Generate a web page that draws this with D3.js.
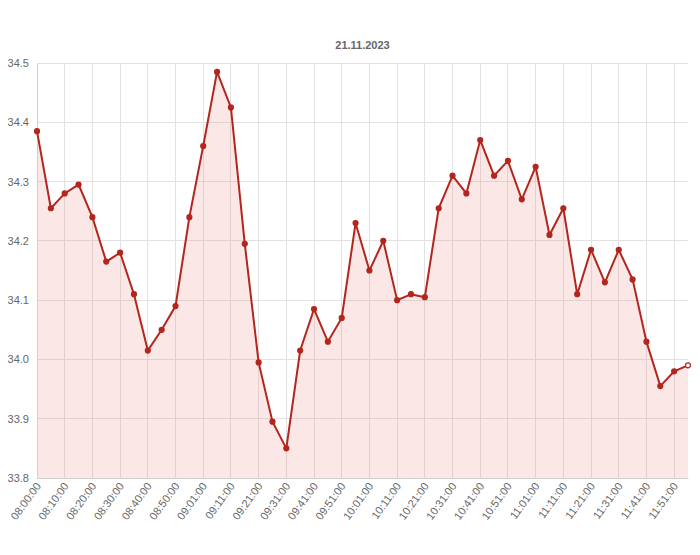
<!DOCTYPE html>
<html><head><meta charset="utf-8">
<script src="https://cdn.jsdelivr.net/npm/d3@7/dist/d3.min.js"></script>
<style>body{margin:0;background:#fff}svg{display:block}</style>
</head><body><div id="chart"></div>
<script>
const title = "21.11.2023";
const times = ["08:00:00","08:05:00","08:10:00","08:15:00","08:20:00","08:25:00","08:30:00","08:35:00","08:40:00","08:45:00",
"08:50:00","08:55:00","09:01:00","09:06:00","09:11:00","09:16:00","09:21:00","09:26:00","09:31:00","09:36:00",
"09:41:00","09:46:00","09:51:00","09:56:00","10:01:00","10:06:00","10:11:00","10:16:00","10:21:00","10:26:00",
"10:31:00","10:36:00","10:41:00","10:46:00","10:51:00","10:56:00","11:01:00","11:06:00","11:11:00","11:16:00",
"11:21:00","11:26:00","11:31:00","11:36:00","11:41:00","11:46:00","11:51:00","11:56:00"];
const values = [34.385,34.255,34.28,34.295,34.24,34.165,34.18,34.11,34.015,34.05,
34.09,34.24,34.36,34.485,34.425,34.195,33.995,33.895,33.85,34.015,
34.085,34.03,34.07,34.23,34.15,34.2,34.1,34.11,34.105,34.255,
34.31,34.28,34.37,34.31,34.335,34.27,34.325,34.21,34.255,34.11,
34.185,34.13,34.185,34.135,34.03,33.955,33.98,33.99];
const yTicks = [33.8,33.9,34.0,34.1,34.2,34.3,34.4,34.5];

const W = 700, H = 555;
const m = {left:37, right:12, top:63, bottom:77};
const svg = d3.select("#chart").append("svg").attr("width",W).attr("height",H);
const font = "'Liberation Sans', Arial, sans-serif";

const x = d3.scalePoint().domain(times).range([m.left, W - m.right]);
const y = d3.scaleLinear().domain([33.8,34.5]).range([H - m.bottom, m.top]);

// grid
const labelTimes = times.filter((t,i)=> i%2===0);
svg.append("g").selectAll("line.v").data(labelTimes).join("line")
  .attr("x1",d=>x(d)).attr("x2",d=>x(d)).attr("y1",m.top).attr("y2",H-m.bottom)
  .attr("stroke","#e2e2e2").attr("stroke-width",1).attr("shape-rendering","crispEdges");
svg.append("g").selectAll("line.h").data(yTicks).join("line")
  .attr("x1",m.left).attr("x2",W-m.right).attr("y1",d=>y(d)).attr("y2",d=>y(d))
  .attr("stroke","#e2e2e2").attr("stroke-width",1).attr("shape-rendering","crispEdges");

// area
const data = times.map((t,i)=>({t, v:values[i]}));
svg.append("path").datum(data)
  .attr("d", d3.area().x(d=>x(d.t)).y0(y(33.8)).y1(d=>y(d.v)))
  .attr("fill","rgba(230,110,100,0.17)");

// axes
const yAxis = d3.axisLeft(y).tickValues(yTicks).tickFormat(d3.format(".1f")).tickSize(0).tickPadding(8);
const gy = svg.append("g").attr("transform",`translate(${m.left},0)`).call(yAxis);
gy.select(".domain").attr("stroke","#cfcfcf");
gy.selectAll("text").attr("fill","#666").attr("font-size","11px").attr("font-family",font);

const xAxis = d3.axisBottom(x).tickValues(labelTimes).tickSize(0).tickPadding(0);
const gx = svg.append("g").attr("transform",`translate(0,${H-m.bottom})`).call(xAxis);
gx.select(".domain").attr("stroke","#cfcfcf");
gx.selectAll("text").attr("fill","#666").attr("font-size","11px").attr("font-family",font)
  .attr("text-anchor","end").attr("dy",null).attr("y",0)
  .attr("transform","translate(4,8) rotate(-54)");

// line
svg.append("path").datum(data)
  .attr("d", d3.line().x(d=>x(d.t)).y(d=>y(d.v)))
  .attr("fill","none").attr("stroke","#b3261e").attr("stroke-width",2);

svg.append("g").selectAll("circle").data(data).join("circle")
  .attr("cx",d=>x(d.t)).attr("cy",d=>y(d.v)).attr("r",2.5)
  .attr("fill",(d,i)=> i===data.length-1 ? "#fff" : "#b3261e")
  .attr("stroke","#b3261e").attr("stroke-width",1.2);

svg.append("text").attr("x",(m.left + W - m.right)/2).attr("y",49)
  .attr("text-anchor","middle").attr("font-family",font).attr("font-size","11px")
  .attr("font-weight","bold").attr("fill","#666").text(title);
</script></body></html>
